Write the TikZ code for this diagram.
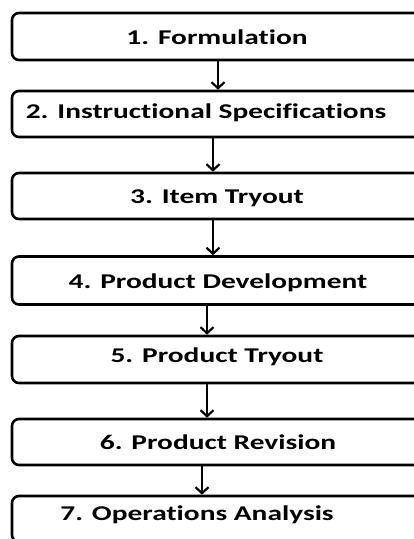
\documentclass[tikz,border=0pt]{standalone}
\usepackage{fontspec}
\newfontfamily\boxfont{Carlito}[Ligatures=NoCommon]
\usetikzlibrary{arrows.meta}

% stage names are set wide: Carlito Bold, stretched sideways
\newcommand{\widelabel}[1]{\scalebox{1.40}[1]{#1}}

\tikzset{
  stagebox/.style={draw=black, line width=2.6pt, rounded corners=7pt,
    minimum width=418pt, inner sep=0pt, fill=white},
  stagelabel/.style={anchor=base, inner sep=0pt,
    font=\boxfont\bfseries\fontsize{21}{21}\selectfont},
  flowarrow/.style={draw=black, line width=2.2pt,
    -{Straight Barb[length=6pt, width=13pt, line width=2.2pt]}}
}

\begin{document}
\begin{tikzpicture}[x=1pt, y=-1pt]
  \useasboundingbox (0,0) rectangle (414,539);
  \clip (0,0) rectangle (414,539);

  % process stages (boxes run past the right edge)
  \node[stagebox, minimum height=47pt] (b1) at (221,36.5) {};
  \node[stagebox, minimum height=46pt] (b2) at (221,114) {};
  \node[stagebox, minimum height=46pt] (b3) at (221,196) {};
  \node[stagebox, minimum height=48pt] (b4) at (221,280.5) {};
  \node[stagebox, minimum height=47pt] (b5) at (221,359.5) {};
  \node[stagebox, minimum height=46pt] (b6) at (221,442) {};
  \node[stagebox, minimum height=46pt] (b7) at (221,519) {};

  % stage names
  \node[stagelabel] (t1) at (217,44.5) {\widelabel{1. Formulation}};
  \node[stagelabel] (t2) at (206,118) {\widelabel{2. Instructional Specifications}};
  \node[stagelabel] (t3) at (217,203.5) {\widelabel{3. Item Tryout}};
  \node[stagelabel] (t4) at (218,288) {\widelabel{4. Product Development}};
  \node[stagelabel] (t5) at (217,362) {\widelabel{5. Product Tryout}};
  \node[stagelabel] (t6) at (218,449) {\widelabel{6. Product Revision}};
  \node[stagelabel] (t7) at (197,520) {\widelabel{7. Operations Analysis}};

  % flow between stages
  \draw[flowarrow] (b1.south -| 218,0) -- (b2.north -| 218,0);
  \draw[flowarrow] (b2.south -| 213,0) -- (b3.north -| 213,0);
  \draw[flowarrow] (b3.south -| 213,0) -- (b4.north -| 213,0);
  \draw[flowarrow] (b4.south -| 207,0) -- (b5.north -| 207,0);
  \draw[flowarrow] (b5.south -| 207,0) -- (b6.north -| 207,0);
  \draw[flowarrow] (b6.south -| 202,0) -- (b7.north -| 202,0);
\end{tikzpicture}
\end{document}
